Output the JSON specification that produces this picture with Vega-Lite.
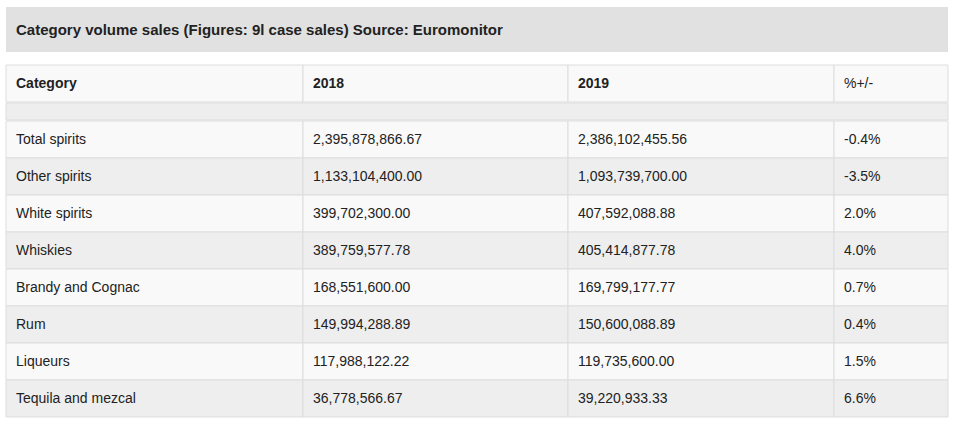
{
  "$schema": "https://vega.github.io/schema/vega-lite/v6.json",
  "padding": {"left": 5, "top": 7, "right": 6, "bottom": 8},
  "background": "white",
  "datasets": {
    "sales": [
      {"Category": "Total spirits", "y2018": 2395878866.67, "y2019": 2386102455.56, "pct": -0.4},
      {"Category": "Other spirits", "y2018": 1133104400.00, "y2019": 1093739700.00, "pct": -3.5},
      {"Category": "White spirits", "y2018": 399702300.00, "y2019": 407592088.88, "pct": 2.0},
      {"Category": "Whiskies", "y2018": 389759577.78, "y2019": 405414877.78, "pct": 4.0},
      {"Category": "Brandy and Cognac", "y2018": 168551600.00, "y2019": 169799177.77, "pct": 0.7},
      {"Category": "Rum", "y2018": 149994288.89, "y2019": 150600088.89, "pct": 0.4},
      {"Category": "Liqueurs", "y2018": 117988122.22, "y2019": 119735600.00, "pct": 1.5},
      {"Category": "Tequila and mezcal", "y2018": 36778566.67, "y2019": 39220933.33, "pct": 6.6}
    ]
  },
  "spacing": 13,
  "bounds": "flush",
  "vconcat": [
    {
      "width": 942, "height": 45,
      "data": {"values": [{"label": "Category volume sales (Figures: 9l case sales) Source: Euromonitor"}]},
      "layer": [
        {"mark": {"type": "rect", "fill": "#e1e1e1"}, "encoding": {}},
        {
          "mark": {"type": "text", "align": "left", "baseline": "middle", "dx": 10, "fontWeight": "bold", "fontSize": 15, "color": "#222222"},
          "encoding": {
            "x": {"datum": 0, "type": "quantitative", "scale": {"domain": [0, 1]}, "axis": null},
            "text": {"field": "label"}
          }
        }
      ]
    },
    {
      "spacing": -1,
      "bounds": "full",
      "vconcat": [
        {
          "spacing": 0,
          "bounds": "flush",
          "hconcat": [
            {
              "width": 297, "height": 37,
              "data": {"values": [{"label": "Category"}]},
              "layer": [
                {"mark": {"type": "rect", "fill": "#f9f9f9", "stroke": "#dddddd", "strokeWidth": 1}, "encoding": {}},
                {"mark": {"type": "text", "align": "left", "baseline": "middle", "dx": 10, "fontWeight": "bold", "fontSize": 14, "color": "#222222"},
                 "encoding": {"x": {"datum": 0, "type": "quantitative", "scale": {"domain": [0, 1]}, "axis": null}, "text": {"field": "label"}}}
              ]
            },
            {
              "width": 265, "height": 37,
              "data": {"values": [{"label": "2018"}]},
              "layer": [
                {"mark": {"type": "rect", "fill": "#f9f9f9", "stroke": "#dddddd", "strokeWidth": 1}, "encoding": {}},
                {"mark": {"type": "text", "align": "left", "baseline": "middle", "dx": 10, "fontWeight": "bold", "fontSize": 14, "color": "#222222"},
                 "encoding": {"x": {"datum": 0, "type": "quantitative", "scale": {"domain": [0, 1]}, "axis": null}, "text": {"field": "label"}}}
              ]
            },
            {
              "width": 266, "height": 37,
              "data": {"values": [{"label": "2019"}]},
              "layer": [
                {"mark": {"type": "rect", "fill": "#f9f9f9", "stroke": "#dddddd", "strokeWidth": 1}, "encoding": {}},
                {"mark": {"type": "text", "align": "left", "baseline": "middle", "dx": 10, "fontWeight": "bold", "fontSize": 14, "color": "#222222"},
                 "encoding": {"x": {"datum": 0, "type": "quantitative", "scale": {"domain": [0, 1]}, "axis": null}, "text": {"field": "label"}}}
              ]
            },
            {
              "width": 114, "height": 37,
              "data": {"values": [{"label": "%+/-"}]},
              "layer": [
                {"mark": {"type": "rect", "fill": "#f9f9f9", "stroke": "#dddddd", "strokeWidth": 1}, "encoding": {}},
                {"mark": {"type": "text", "align": "left", "baseline": "middle", "dx": 10, "fontSize": 14, "color": "#222222"},
                 "encoding": {"x": {"datum": 0, "type": "quantitative", "scale": {"domain": [0, 1]}, "axis": null}, "text": {"field": "label"}}}
              ]
            }
          ]
        },
        {
          "width": 942, "height": 17,
          "data": {"values": [{"label": ""}]},
          "mark": {"type": "rect", "fill": "#eeeeee", "stroke": "#dddddd", "strokeWidth": 1},
          "encoding": {}
        },
        {
          "spacing": 0,
          "bounds": "flush",
          "hconcat": [
            {
              "width": 297, "height": 296,
              "data": {"name": "sales"},
              "transform": [{"window": [{"op": "row_number", "as": "idx"}]}],
              "encoding": {
                "y": {"field": "Category", "type": "nominal", "sort": null, "axis": null, "scale": {"paddingInner": 0, "paddingOuter": 0}}
              },
              "layer": [
                {"mark": {"type": "rect", "stroke": "#dddddd", "strokeWidth": 1},
                 "encoding": {"fill": {"condition": {"test": "datum.idx % 2 == 0", "value": "#eeeeee"}, "value": "#f9f9f9"}}},
                {"mark": {"type": "text", "align": "left", "baseline": "middle", "dx": 10, "fontSize": 14, "color": "#222222"},
                 "encoding": {"x": {"datum": 0, "type": "quantitative", "scale": {"domain": [0, 1]}, "axis": null}, "text": {"field": "Category"}}}
              ]
            },
            {
              "width": 265, "height": 296,
              "data": {"name": "sales"},
              "transform": [{"window": [{"op": "row_number", "as": "idx"}]}],
              "encoding": {
                "y": {"field": "Category", "type": "nominal", "sort": null, "axis": null, "scale": {"paddingInner": 0, "paddingOuter": 0}}
              },
              "layer": [
                {"mark": {"type": "rect", "stroke": "#dddddd", "strokeWidth": 1},
                 "encoding": {"fill": {"condition": {"test": "datum.idx % 2 == 0", "value": "#eeeeee"}, "value": "#f9f9f9"}}},
                {"mark": {"type": "text", "align": "left", "baseline": "middle", "dx": 10, "fontSize": 14, "color": "#222222"},
                 "encoding": {"x": {"datum": 0, "type": "quantitative", "scale": {"domain": [0, 1]}, "axis": null}, "text": {"field": "y2018", "type": "quantitative", "format": ",.2f"}}}
              ]
            },
            {
              "width": 266, "height": 296,
              "data": {"name": "sales"},
              "transform": [{"window": [{"op": "row_number", "as": "idx"}]}],
              "encoding": {
                "y": {"field": "Category", "type": "nominal", "sort": null, "axis": null, "scale": {"paddingInner": 0, "paddingOuter": 0}}
              },
              "layer": [
                {"mark": {"type": "rect", "stroke": "#dddddd", "strokeWidth": 1},
                 "encoding": {"fill": {"condition": {"test": "datum.idx % 2 == 0", "value": "#eeeeee"}, "value": "#f9f9f9"}}},
                {"mark": {"type": "text", "align": "left", "baseline": "middle", "dx": 10, "fontSize": 14, "color": "#222222"},
                 "encoding": {"x": {"datum": 0, "type": "quantitative", "scale": {"domain": [0, 1]}, "axis": null}, "text": {"field": "y2019", "type": "quantitative", "format": ",.2f"}}}
              ]
            },
            {
              "width": 114, "height": 296,
              "data": {"name": "sales"},
              "transform": [
                {"window": [{"op": "row_number", "as": "idx"}]},
                {"calculate": "replace(format(datum.pct, '.1f'), '\u2212', '-') + '%'", "as": "pctLabel"}
              ],
              "encoding": {
                "y": {"field": "Category", "type": "nominal", "sort": null, "axis": null, "scale": {"paddingInner": 0, "paddingOuter": 0}}
              },
              "layer": [
                {"mark": {"type": "rect", "stroke": "#dddddd", "strokeWidth": 1},
                 "encoding": {"fill": {"condition": {"test": "datum.idx % 2 == 0", "value": "#eeeeee"}, "value": "#f9f9f9"}}},
                {"mark": {"type": "text", "align": "left", "baseline": "middle", "dx": 10, "fontSize": 14, "color": "#222222"},
                 "encoding": {"x": {"datum": 0, "type": "quantitative", "scale": {"domain": [0, 1]}, "axis": null}, "text": {"field": "pctLabel"}}}
              ]
            }
          ]
        }
      ]
    }
  ],
  "config": {
    "font": "Liberation Sans",
    "view": {"stroke": null},
    "text": {"font": "Liberation Sans"}
  }
}
